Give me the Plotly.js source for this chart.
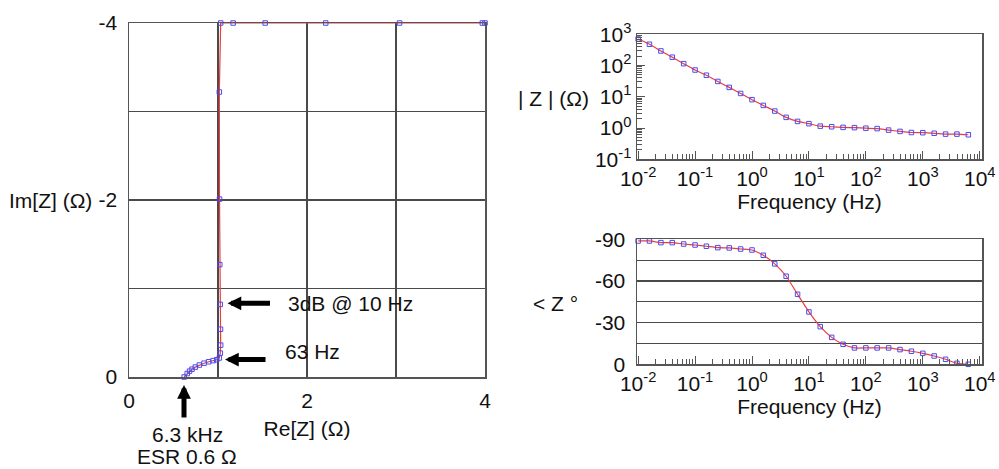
<!DOCTYPE html>
<html>
<head>
<meta charset="utf-8">
<script src="https://cdn.plot.ly/plotly-3.0.1.min.js"></script>
<style>html,body{margin:0;padding:0;background:#fff}#chart{width:999px;height:469px}</style>
</head>
<body>
<div id="chart"></div>
<script>
// ---- data ----
var freqHz = [0.01, 0.0158, 0.0251, 0.0398, 0.0631, 0.1, 0.158, 0.251, 0.398, 0.631,
              1, 1.58, 2.51, 3.98, 6.31, 10, 15.8, 25.1, 39.8, 63.1,
              100, 158, 251, 398, 631, 1000, 1585, 2512, 3981, 6310];
var magOhm = [708, 480, 293, 185, 115, 72, 49, 31, 20, 12.8,
              8.1, 5.3, 3.5, 2.2, 1.63, 1.38, 1.15, 1.1, 1.05, 1.03,
              0.99, 0.96, 0.86, 0.78, 0.72, 0.71, 0.68, 0.64, 0.64, 0.61];
var phaseDeg = [-88.8, -88.8, -87.6, -87.6, -86.6, -85.9, -85, -84, -83.8, -83,
                -82.3, -78.5, -72.3, -63.4, -50.4, -37.7, -27.1, -19.4, -14.4, -11.8,
                -11.8, -11.8, -11.8, -10.6, -9.4, -7.9, -6, -3.6, -0.7, 0];
// Nyquist points as drawn (out-of-range points are pinned to the -4 border in the reference)
var reZ = [0.62, 0.654, 0.68, 0.708, 0.745, 0.79, 0.843, 0.895, 0.945, 0.985,
           1.015, 1.026, 1.03, 1.028, 1.025, 1.02, 1.017, 1.015,
           1.03, 1.17, 1.53, 2.21, 3.04, 3.97, 4.0];
var imZ = [0, -0.039, -0.066, -0.088, -0.112, -0.135, -0.156, -0.172, -0.185, -0.195,
           -0.215, -0.27, -0.36, -0.54, -0.82, -1.27, -2.01, -3.22,
           -4, -4, -4, -4, -4, -4, -4];
var nyqXTicks = [0, 2, 4], nyqXText = ['0', '2', '4'];
var nyqYTicks = [0, -2, -4], nyqYText = ['0', '-2', '-4'];
var freqTicks = [0.01, 0.1, 1, 10, 100, 1000, 10000];
var freqTickText = ['10<sup>-2</sup>', '10<sup>-1</sup>', '10<sup>0</sup>', '10<sup>1</sup>', '10<sup>2</sup>', '10<sup>3</sup>', '10<sup>4</sup>'];
var magTicks = [0.1, 1, 10, 100, 1000];
var magTickText = ['10<sup>-1</sup>', '10<sup>0</sup>', '10<sup>1</sup>', '10<sup>2</sup>', '10<sup>3</sup>'];
var phaseTicks = [-90, -60, -30, 0], phaseTickText = ['-90', '-60', '-30', '0'];

// ---- helpers (layout only) ----
var W = 999, H = 469;
function px(x) { return x / W; }
function py(y) { return (H - y) / H; }
function minorLog(lo, hi) {
  var v = [];
  for (var d = lo; d < hi; d++) for (var k = 2; k <= 9; k++) v.push(k * Math.pow(10, d));
  return v;
}

var RED = '#ee3b3b', BLUE = '#4b4bee', AX = '#555555', GRID = '#4a4a4a', FONT = 'Liberation Sans, Arial, sans-serif';
var FS = 21;
var marker = {symbol: 'square-open', size: 4.5, color: BLUE, line: {width: 1, color: BLUE}};
var line = {color: RED, width: 1.2};

var traces = [
  {x: reZ, y: imZ, xaxis: 'x', yaxis: 'y', mode: 'lines+markers', line: line, marker: marker, cliponaxis: false, showlegend: false},
  {x: freqHz, y: magOhm, xaxis: 'x2', yaxis: 'y2', mode: 'lines+markers', line: Object.assign({shape: 'spline', smoothing: 0.6}, line), marker: marker, cliponaxis: false, showlegend: false},
  {x: freqHz, y: phaseDeg, xaxis: 'x3', yaxis: 'y3', mode: 'lines+markers', line: Object.assign({shape: 'spline', smoothing: 0.6}, line), marker: marker, cliponaxis: false, showlegend: false}
];

var tickFont = {family: FONT, size: FS, color: '#111'};
var titleFont = {family: FONT, size: FS, color: '#111'};
var baseAx = {showline: true, linecolor: AX, linewidth: 1.5, mirror: true, zeroline: false, tickfont: tickFont, ticks: ''};

var layout = {
  width: W, height: H, margin: {l: 0, r: 0, t: 0, b: 0},
  paper_bgcolor: '#fff', plot_bgcolor: '#fff',
  font: {family: FONT, size: FS, color: '#111'},
  showlegend: false,
  xaxis: Object.assign({}, baseAx, {
    domain: [px(129), px(485)], anchor: 'y', range: [0, 4], tickmode: 'array', tickvals: nyqXTicks, ticktext: nyqXText,
    showgrid: true, gridcolor: GRID, gridwidth: 1.2,
    minor: {tickmode: 'linear', tick0: 0, dtick: 1, showgrid: true, gridcolor: GRID, gridwidth: 1.2, ticks: ''},
    ticklabelstandoff: 4,
    title: {text: 'Re[Z] (Ω)', font: titleFont, standoff: 10}
  }),
  yaxis: Object.assign({}, baseAx, {
    domain: [py(377), py(23)], anchor: 'x', range: [0, -4], tickmode: 'array', tickvals: nyqYTicks, ticktext: nyqYText,
    showgrid: true, gridcolor: GRID, gridwidth: 1.2,
    minor: {tickmode: 'linear', tick0: 0, dtick: 1, showgrid: true, gridcolor: GRID, gridwidth: 1.2, ticks: ''},
    ticklabelstandoff: 6
  }),
  xaxis2: Object.assign({}, baseAx, {
    domain: [px(637), px(982)], anchor: 'y2', type: 'log', range: [-2.02, 4.04],
    tickmode: 'array', tickvals: freqTicks, ticktext: freqTickText, showgrid: false,
    ticks: 'inside', ticklen: 8, tickwidth: 1, tickcolor: AX,
    minor: {tickmode: 'array', tickvals: minorLog(-2, 4), ticks: 'inside', ticklen: 5, tickwidth: 1, tickcolor: AX, showgrid: false},
    title: {text: 'Frequency (Hz)', font: titleFont, standoff: 2}
  }),
  yaxis2: Object.assign({}, baseAx, {
    domain: [py(159.3), py(34.3)], anchor: 'x2', type: 'log', range: [-1, 3],
    tickmode: 'array', tickvals: magTicks, ticktext: magTickText, showgrid: false,
    ticks: 'inside', ticklen: 8, tickwidth: 1, tickcolor: AX,
    minor: {tickmode: 'array', tickvals: minorLog(-1, 3), ticks: 'inside', ticklen: 5, tickwidth: 1, tickcolor: AX, showgrid: false}
  }),
  xaxis3: Object.assign({}, baseAx, {
    domain: [px(637), px(982)], anchor: 'y3', type: 'log', range: [-2.02, 4.04],
    tickmode: 'array', tickvals: freqTicks, ticktext: freqTickText, showgrid: false,
    ticks: 'inside', ticklen: 8, tickwidth: 1, tickcolor: AX,
    minor: {tickmode: 'array', tickvals: minorLog(-2, 4), ticks: 'inside', ticklen: 5, tickwidth: 1, tickcolor: AX, showgrid: false},
    title: {text: 'Frequency (Hz)', font: titleFont, standoff: 2}
  }),
  yaxis3: Object.assign({}, baseAx, {
    domain: [py(364.3), py(239.3)], anchor: 'x3', range: [0, -90],
    tickmode: 'array', tickvals: phaseTicks, ticktext: phaseTickText,
    showgrid: true, gridcolor: GRID, gridwidth: 1.1,
    minor: {tickmode: 'linear', tick0: 0, dtick: 15, showgrid: true, gridcolor: GRID, gridwidth: 1.1, ticks: ''},
    ticklabelstandoff: 6
  }),
  annotations: [
    {xref: 'paper', yref: 'paper', x: px(50), y: py(200), text: 'Im[Z] (Ω)', showarrow: false, xanchor: 'center', yanchor: 'middle'},
    {xref: 'paper', yref: 'paper', x: px(553), y: py(98), text: '| Z | (Ω)', showarrow: false, xanchor: 'center', yanchor: 'middle'},
    {xref: 'paper', yref: 'paper', x: px(555), y: py(303), text: '&lt; Z °', showarrow: false, xanchor: 'center', yanchor: 'middle'},
    {xref: 'paper', yref: 'paper', x: px(286), y: py(303), text: '3dB @ 10 Hz', showarrow: false, xanchor: 'left', yanchor: 'middle'},
    {xref: 'paper', yref: 'paper', x: px(283), y: py(351), text: '63 Hz', showarrow: false, xanchor: 'left', yanchor: 'middle'},
    {xref: 'paper', yref: 'paper', x: px(187), y: py(434), text: '6.3 kHz', showarrow: false, xanchor: 'center', yanchor: 'middle'},
    {xref: 'paper', yref: 'paper', x: px(187), y: py(456), text: 'ESR 0.6 Ω', showarrow: false, xanchor: 'center', yanchor: 'middle'},
    // arrows
    {xref: 'paper', yref: 'paper', x: px(184), y: py(385), ax: 0, ay: 34, text: '', showarrow: true, arrowhead: 2, arrowwidth: 5, arrowsize: 0.55, arrowcolor: '#000', standoff: 0},
    {xref: 'paper', yref: 'paper', x: px(227.5), y: py(303.3), ax: 44, ay: 0, text: '', showarrow: true, arrowhead: 2, arrowwidth: 5, arrowsize: 0.55, arrowcolor: '#000', standoff: 0},
    {xref: 'paper', yref: 'paper', x: px(225), y: py(359.5), ax: 42, ay: 0, text: '', showarrow: true, arrowhead: 2, arrowwidth: 5, arrowsize: 0.55, arrowcolor: '#000', standoff: 0}
  ]
};

Plotly.newPlot('chart', traces, layout, {staticPlot: true, displayModeBar: false});
</script>
</body>
</html>
